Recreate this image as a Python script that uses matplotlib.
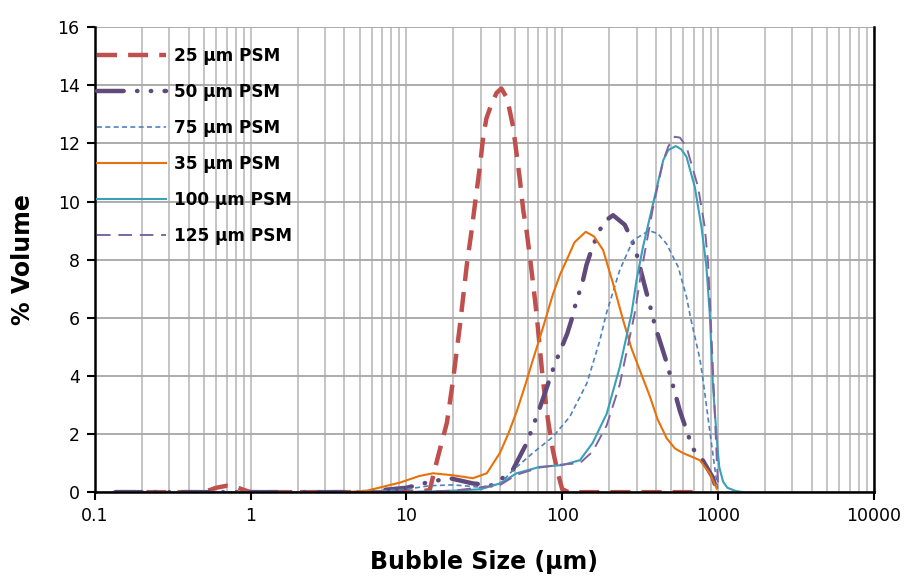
import numpy as np
import matplotlib
matplotlib.use("Agg")
import matplotlib.pyplot as plt
from matplotlib.ticker import FixedLocator, LogLocator, NullFormatter

# === Data ===
x_25 = [0.135, 0.3, 0.5, 0.6, 0.7, 0.8, 0.9, 1.0, 3, 8, 12, 14.1, 15.9, 18.2, 19.9, 22.0, 24.5,
        26.2, 27.9, 29.6, 31.1, 32.6, 35.2, 38, 40.7, 44.3, 48.4, 50.9, 53.5, 56.2, 59.0, 62.0,
        65, 68.4, 71.1, 75, 80.9, 87, 93.8, 100, 110, 300, 760]
y_25 = [0, 0, 0, 0.15, 0.22, 0.18, 0.08, 0, 0, 0, 0.02, 0.07, 1.2, 2.4, 3.85, 5.7, 7.9,
        9.0, 10.16, 11.2, 12.23, 12.86, 13.37, 13.75, 13.89, 13.55, 12.57, 11.65, 10.74, 9.7,
        9.0, 8.1, 7.18, 6.15, 5.2, 3.9, 2.5, 1.45, 0.65, 0.1, 0, 0, 0]

x_50 = [0.135, 1, 5, 10, 14, 19, 26.7, 35.9, 48, 59.3, 71.8, 89.5, 107.6, 114.6, 120.5, 136,
        143, 154, 166, 185, 212, 252, 278.6, 300, 331, 351, 371, 393, 469, 569, 689, 798, 927,
        982]
y_50 = [0, 0, 0, 0.15, 0.35, 0.48, 0.3, 0.23, 0.75, 1.7, 2.9, 4.4, 5.45, 5.92, 6.38, 7.3,
        7.81, 8.33, 8.78, 9.3, 9.53, 9.2, 8.7, 8.21, 7.3, 6.78, 6.29, 5.75, 4.45, 2.8, 1.5, 1.1,
        0.5, 0.05]

x_75 = [0.135, 1, 5, 10, 14, 20, 30, 40, 48.2, 64.8, 87, 112, 144, 174, 192, 234, 285, 361,
        410, 467, 555, 628, 665, 764, 800, 886, 950, 1000]
y_75 = [0, 0, 0, 0.1, 0.22, 0.25, 0.17, 0.3, 0.75, 1.35, 1.9, 2.6, 3.75, 5.2, 6.15, 7.64, 8.67,
        9.0, 8.9, 8.55, 7.75, 6.72, 6.03, 4.6, 3.9, 2.1, 0.9, 0.05]

x_35 = [0.135, 1, 4, 5.57, 9.1, 12, 14.8, 19.9, 26.7, 32.8, 39.8, 45, 51.2, 58, 64.8, 68.4,
        75.5, 87.5, 97, 106.6, 120, 141.6, 160, 183, 212, 246, 278.6, 320, 365, 410, 469, 530,
        594, 764, 886, 982]
y_35 = [0, 0, 0, 0.05, 0.33, 0.55, 0.65, 0.58, 0.48, 0.65, 1.35, 2.0, 2.8, 3.7, 4.55, 4.95,
        5.69, 6.84, 7.5, 7.98, 8.6, 8.96, 8.8, 8.33, 7.18, 5.92, 4.94, 4.1, 3.3, 2.5, 1.85, 1.5,
        1.35, 1.1, 0.65, 0.12]

x_100 = [0.135, 1, 10, 20, 30, 39.8, 51, 71.8, 100, 130, 157, 193, 234, 278.6, 300, 330, 383,
         445, 479, 536, 580, 628, 710, 783, 843, 885, 930, 990, 1020, 1080, 1150, 1300, 1450]
y_100 = [0, 0, 0, 0.05, 0.1, 0.3, 0.65, 0.87, 0.93, 1.1, 1.7, 2.7, 4.3, 6.15, 7.3, 8.44, 9.93,
         11.42, 11.77, 11.91, 11.8, 11.54, 10.5, 9.13, 7.75, 6.15, 3.6, 1.6, 0.85, 0.35, 0.15,
         0.04, 0]

x_125 = [0.135, 1, 10, 20, 40, 51, 72, 100, 130, 157, 193, 234, 292, 323, 383, 445, 480, 528,
         570, 628, 745, 822, 864, 895, 940, 985, 1005]
y_125 = [0, 0, 0, 0.05, 0.25, 0.6, 0.85, 0.95, 1.0, 1.4, 2.3, 3.7, 6.15, 7.64, 9.8, 11.4, 11.9,
         12.23, 12.2, 11.88, 10.5, 9.13, 7.87, 6.15, 3.5, 1.0, 0.1]

labels = ["25 µm PSM", "50 µm PSM", "75 µm PSM", "35 µm PSM", "100 µm PSM", "125 µm PSM"]
x_ticks = [0.1, 1, 10, 100, 1000, 10000]
x_tick_labels = ["0.1", "1", "10", "100", "1000", "10000"]
y_ticks = [0, 2, 4, 6, 8, 10, 12, 14, 16]

# === Plot ===
fig = plt.figure(figsize=(9.13, 5.79), dpi=100)
ax = fig.add_axes([0.104, 0.150, 0.853, 0.803])

ax.plot(x_25, y_25, color="#C0504D", lw=3.2, dashes=(4.5, 2.5), label=labels[0])
ax.plot(x_50, y_50, color="#604A7B", lw=3.2, dashes=(6, 3, 0.1, 3, 0.1, 3),
        dash_capstyle="round", label=labels[1])
ax.plot(x_75, y_75, color="#4F81BD", lw=1.2, dashes=(3, 2), label=labels[2])
ax.plot(x_35, y_35, color="#E8710A", lw=1.5, label=labels[3])
ax.plot(x_100, y_100, color="#3A9FB8", lw=1.5, label=labels[4])
ax.plot(x_125, y_125, color="#8064A2", lw=1.4, dashes=(7, 4), label=labels[5])

ax.set_xscale("log")
ax.set_xlim(0.1, 10000)
ax.set_ylim(0, 16)
ax.xaxis.set_major_locator(FixedLocator(x_ticks))
ax.set_xticklabels(x_tick_labels)
ax.xaxis.set_minor_locator(LogLocator(base=10, subs=np.arange(2, 10)))
ax.xaxis.set_minor_formatter(NullFormatter())
ax.set_yticks(y_ticks)

ax.grid(axis="x", which="both", color="#BFBFBF", lw=1.3)
ax.grid(axis="y", which="major", color="#A6A6A6", lw=1.3)
ax.set_axisbelow(True)
ax.tick_params(axis="x", which="minor", length=0)
ax.tick_params(axis="both", which="major", direction="out", length=6, width=1.5,
               labelsize=12.5, pad=5)

for side in ["left", "bottom", "right"]:
    ax.spines[side].set_linewidth(1.8)
    ax.spines[side].set_color("black")
ax.spines["top"].set_visible(False)

ax.set_xlabel("Bubble Size (µm)", fontsize=17, fontweight="bold", labelpad=18)
ax.set_ylabel("% Volume", fontsize=17, fontweight="bold", labelpad=16)

leg = ax.legend(loc="upper left", frameon=False, fontsize=12.2, handlelength=4.1,
                handletextpad=0.45, labelspacing=1.07, borderaxespad=0.0, borderpad=0.1,
                bbox_to_anchor=(0.0, 0.962))
for t in leg.get_texts():
    t.set_fontweight("bold")

fig.savefig("out.png", dpi=100)
